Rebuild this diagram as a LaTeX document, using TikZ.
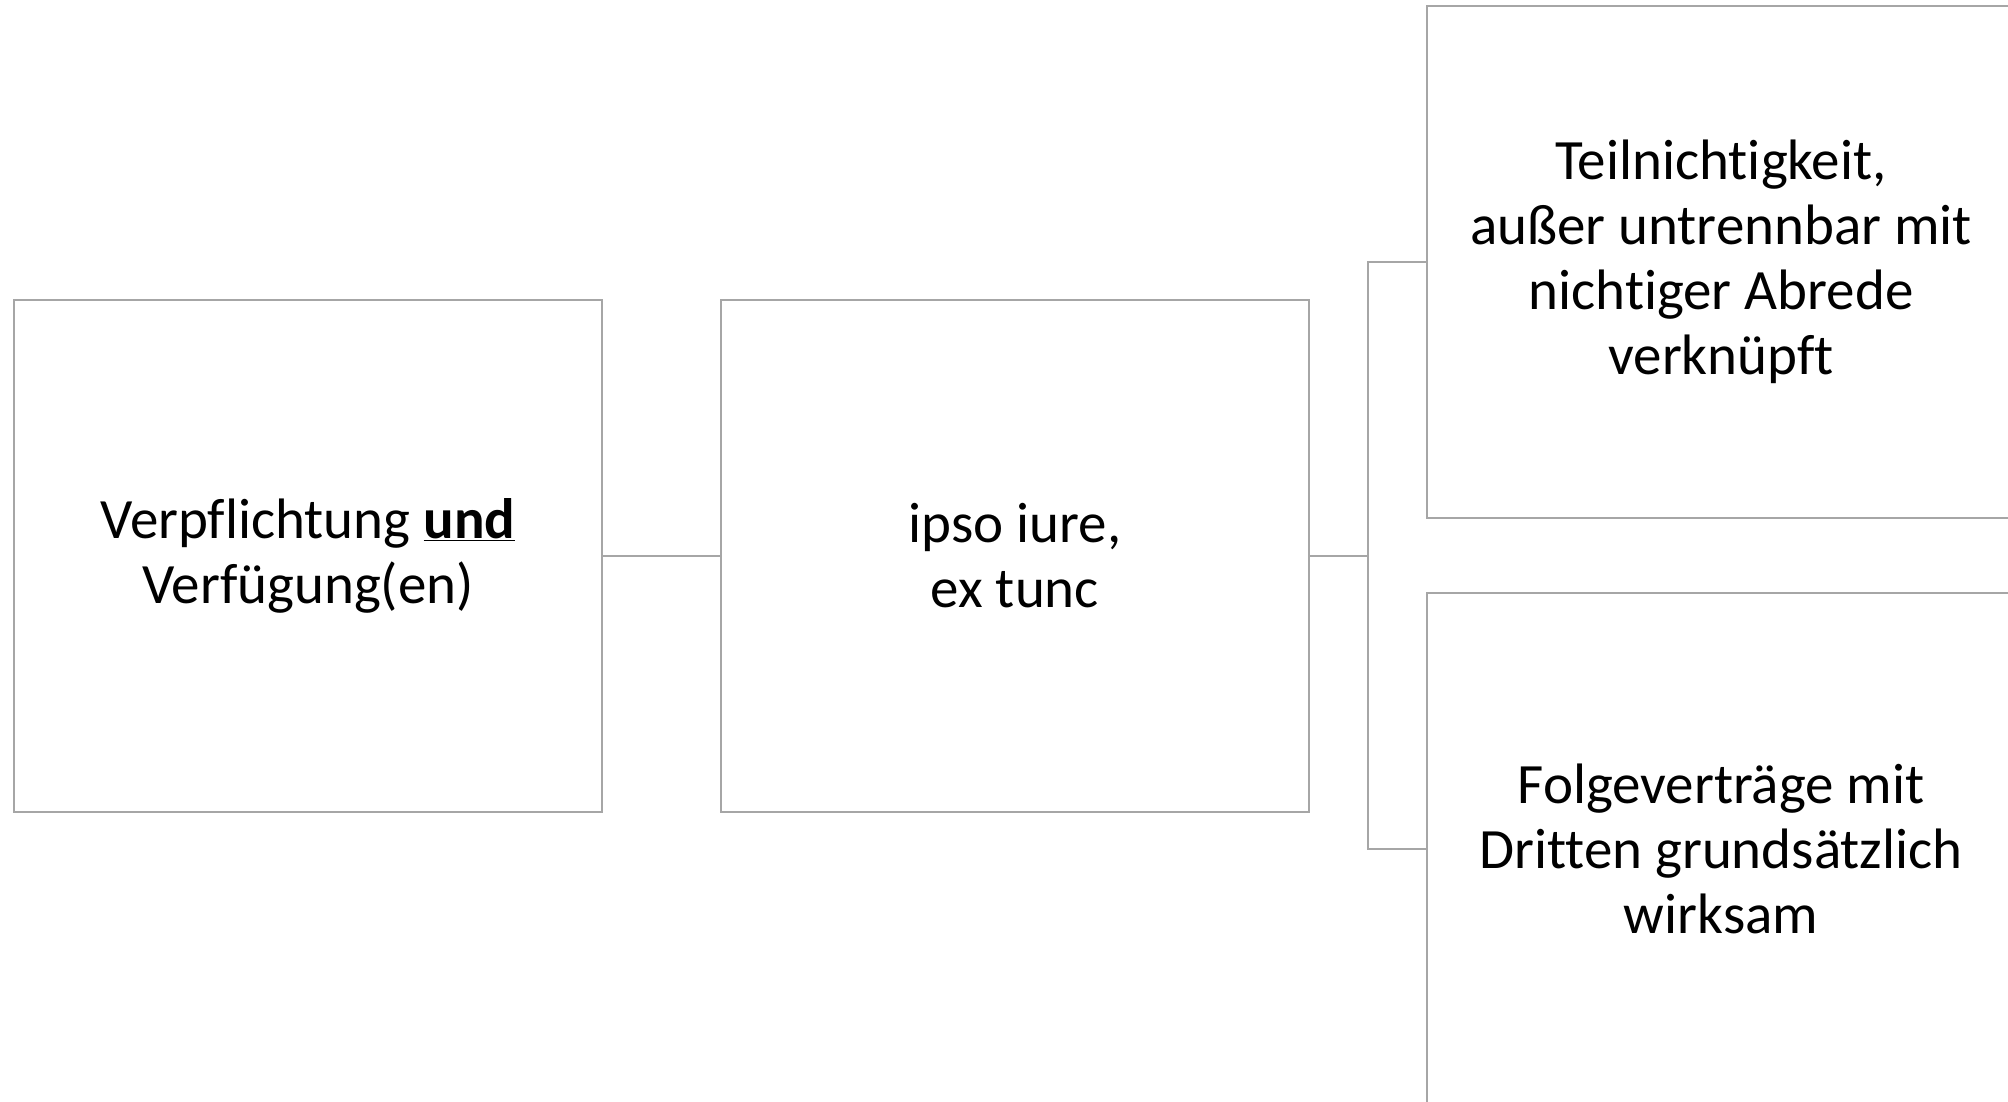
\documentclass[tikz,border=0pt]{standalone}
\usepackage{fontspec}
\setmainfont{Carlito}[Ligatures=NoCommon]
\begin{document}
\begin{tikzpicture}[x=1pt,y=-1pt,
  box/.style={draw=black!35, line width=2pt, fill=white, minimum width=588pt, minimum height=512pt,
    inner sep=0pt, align=center, text=black, font=\fontsize{57}{65}\selectfont},
  conn/.style={draw=black!35, line width=2pt}]
\useasboundingbox[fill=white] (0,0) rectangle (2008,1102);
\node[box] (b1) at (308,556) {Verpflichtung \underline{\textbf{und}}\\Verfügung(en)};
\node[box] (b2) at (1015,556) {ipso iure,\\ex tunc};
\node[box] (b3) at (1721,262) {Teilnichtigkeit,\\außer untrennbar mit\\nichtiger Abrede\\verknüpft};
\node[box] (b4) at (1721,849) {Folgeverträge mit\\Dritten grundsätzlich\\wirksam};
\coordinate (j) at (1368,556);
\draw[conn] (b1.east) -- (b2.west);
\draw[conn] (b2.east) -- (j);
\draw[conn] (j) |- (b3.west);
\draw[conn] (j) |- (b4.west);
\end{tikzpicture}
\end{document}
